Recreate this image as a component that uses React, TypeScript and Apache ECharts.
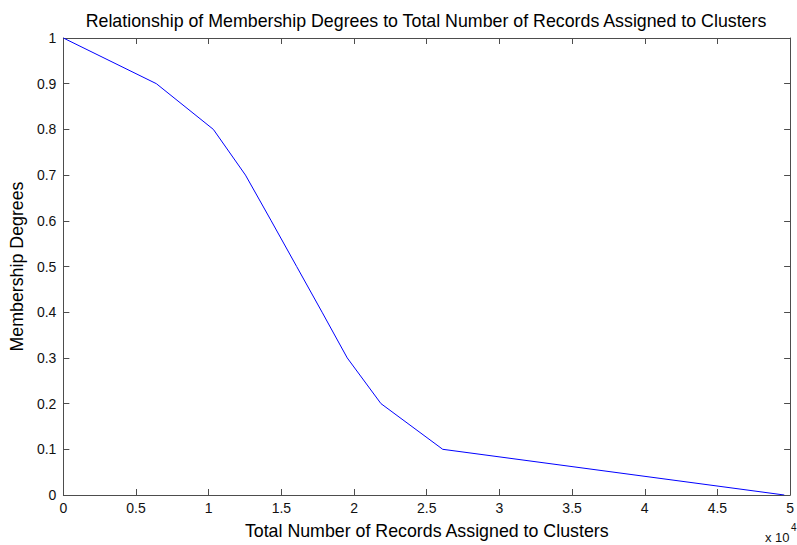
import React, { useEffect, useRef } from "react";
import * as echarts from "echarts";

const titleText = "Relationship of Membership Degrees to Total Number of Records Assigned to Clusters";
const xLabel = "Total Number of Records Assigned to Clusters";
const yLabel = "Membership Degrees";
const recordCounts = [0, 6400, 10320, 12530, 14300, 16050, 17800, 19530, 21850, 26100, 49600];
const membership = [1, 0.9, 0.8, 0.7, 0.6, 0.5, 0.4, 0.3, 0.2, 0.1, 0];

const FONT = "'Liberation Sans', Arial, Helvetica, sans-serif";
const AXIS_COLOR = "#4d4d4d";

export default function App() {
  const ref = useRef<HTMLDivElement>(null);
  useEffect(() => {
    document.body.style.margin = "0";
    const chart = echarts.init(ref.current!, null, { renderer: "svg" });
    const common = {
      splitLine: { show: false },
    };
    const line = { show: true, onZero: false, lineStyle: { color: AXIS_COLOR, width: 1 } };
    const tick = { show: true, inside: true, length: 6, lineStyle: { color: AXIS_COLOR } };
    chart.setOption({
      animation: false,
      backgroundColor: "#ffffff",
      title: {
        text: titleText,
        left: 421,
        textAlign: "center",
        top: 7,
        textStyle: { fontFamily: FONT, fontSize: 17.8, fontWeight: "normal", color: "#000" },
      },
      grid: { left: 63, right: 1, top: 38, bottom: 47, containLabel: false },
      xAxis: [
        {
          ...common,
          type: "value",
          min: 0,
          max: 50000,
          interval: 5000,
          position: "bottom",
          axisLine: line,
          axisTick: tick,
          axisLabel: {
            show: true,
            margin: 6,
            fontFamily: FONT,
            fontSize: 14,
            color: "#111",
            formatter: (v: number) => String(v / 10000),
          },
          name: xLabel,
          nameLocation: "middle",
          nameGap: 27,
          nameTextStyle: { fontFamily: FONT, fontSize: 17.8, color: "#000" },
        },
        {
          ...common,
          type: "value",
          min: 0,
          max: 50000,
          interval: 5000,
          position: "top",
          axisLine: line,
          axisTick: tick,
          axisLabel: { show: false },
        },
      ],
      yAxis: [
        {
          ...common,
          type: "value",
          min: 0,
          max: 1,
          interval: 0.1,
          position: "left",
          axisLine: line,
          axisTick: tick,
          axisLabel: {
            show: true,
            margin: 7,
            fontFamily: FONT,
            fontSize: 14,
            color: "#111",
            formatter: (v: number) => String(Math.round(v * 10) / 10),
          },
          name: yLabel,
          nameLocation: "middle",
          nameGap: 32,
          nameRotate: 90,
          nameTextStyle: { fontFamily: FONT, fontSize: 17.8, color: "#000" },
        },
        {
          ...common,
          type: "value",
          min: 0,
          max: 1,
          interval: 0.1,
          position: "right",
          axisLine: line,
          axisTick: tick,
          axisLabel: { show: false },
        },
      ],
      graphic: [
        {
          type: "text",
          left: 765,
          top: 531,
          style: { text: "x 10", fontFamily: FONT, fontSize: 13, fill: "#111" },
        },
        {
          type: "text",
          left: 791,
          top: 522,
          style: { text: "4", fontFamily: FONT, fontSize: 10, fill: "#111" },
        },
      ],
      series: [
        {
          type: "line",
          xAxisIndex: 0,
          yAxisIndex: 0,
          data: recordCounts.map((x, i) => [x, membership[i]]),
          showSymbol: false,
          symbol: "none",
          lineStyle: { color: "#0000ff", width: 1 },
        },
      ],
    });
    return () => chart.dispose();
  }, []);
  return <div ref={ref} style={{ width: 797, height: 545 }} />;
}
